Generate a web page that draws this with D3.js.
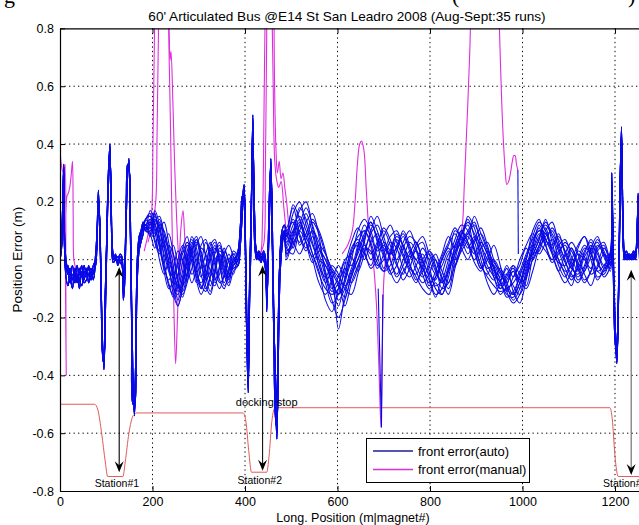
<!DOCTYPE html>
<html><head><meta charset="utf-8">
<script src="https://cdn.jsdelivr.net/npm/d3@7"></script>
<style>
body{margin:0;background:#fff}
svg{display:block}
text{font-family:"Liberation Sans",Arial,Helvetica,sans-serif;fill:#000}
</style>
</head><body>
<svg id="chart" width="639" height="525"></svg>
<script>
// ---------------- DATA ----------------
const titleText = "60' Articulated Bus @E14 St San Leadro 2008 (Aug-Sept:35 runs)";
const xLabel = "Long. Position (m|magnet#)";
const yLabel = "Position Error (m)";
const xTicks = [0, 200, 400, 600, 800, 1000, 1200];
const yTicks = [-0.8, -0.6, -0.4, -0.2, 0, 0.2, 0.4, 0.6, 0.8];
const seriesNames = ["front error(auto)", "front error(manual)"];
const captionFragments = ["g", "(", ")"];

// station zone 1 (all runs nearly aligned)
const zone1Pos = [0,3,6,8,10,13,17,22,27,32,37,42,47,52,57,62,67,72,77,80,83,86,89,92,95,98,101,104,108,111,115,120,125,130,134,137,140,143,146,149,152,155,158,161,164,167,171,175,180,185];
const zone1A = [0.02,0.05,0.18,0.32,0.05,-0.02,-0.05,-0.03,-0.07,-0.04,-0.08,-0.03,-0.06,-0.02,-0.05,-0.03,-0.06,-0.02,0.0,0.08,0.22,0.12,-0.1,-0.3,-0.37,-0.15,0.05,0.25,0.38,0.15,0.0,0.01,-0.01,0.01,0.0,-0.12,-0.05,0.15,0.3,0.34,0.15,-0.2,-0.45,-0.53,-0.3,-0.05,0.05,0.08,0.11,0.12];
const zone1B = [0.0,0.03,0.15,0.30,0.02,-0.06,-0.09,-0.05,-0.02,-0.08,-0.05,-0.1,-0.04,-0.07,-0.03,-0.08,-0.04,-0.05,0.02,0.1,0.24,0.1,-0.12,-0.32,-0.34,-0.1,0.08,0.28,0.40,0.12,-0.01,0.0,0.01,-0.01,-0.02,-0.1,-0.02,0.18,0.33,0.32,0.1,-0.25,-0.5,-0.5,-0.25,0.0,0.08,0.1,0.13,0.1];
const zone1C = [0.03,0.08,0.2,0.33,0.08,0.0,-0.04,-0.08,-0.05,-0.06,-0.02,-0.07,-0.09,-0.04,-0.06,-0.02,-0.07,-0.04,-0.02,0.05,0.2,0.14,-0.08,-0.28,-0.38,-0.2,0.02,0.22,0.36,0.18,0.02,0.0,0.0,0.02,0.01,-0.14,-0.08,0.12,0.28,0.35,0.18,-0.15,-0.42,-0.54,-0.35,-0.08,0.03,0.06,0.09,0.14];
const zone1D = [0.01,0.04,0.12,0.28,0.03,-0.04,-0.02,-0.06,-0.1,-0.03,-0.06,-0.05,-0.02,-0.08,-0.07,-0.05,-0.03,-0.07,-0.01,0.06,0.21,0.13,-0.1,-0.33,-0.36,-0.12,0.06,0.26,0.39,0.14,0.0,0.02,-0.02,0.0,-0.01,-0.11,-0.04,0.16,0.31,0.33,0.12,-0.22,-0.48,-0.52,-0.28,-0.03,0.06,0.09,0.12,0.11];

// wandering band between station 1 and 2
const band1Pos = [195,205,215,225,235,245,255,265,275,285,295,305,315,325,335,345,355,365,375];
const band1Run0  = [0.14,0.12,0.08,0.02,-0.04,-0.08,-0.05,0.02,0.06,0.03,-0.04,-0.08,-0.05,0.0,0.04,0.0,-0.06,-0.04,0.0];
const band1Run1  = [0.10,0.15,0.10,0.04,-0.02,-0.10,-0.12,-0.06,0.03,0.07,0.02,-0.05,-0.10,-0.06,0.02,0.05,-0.02,-0.07,-0.02];
const band1Run2  = [0.16,0.09,0.13,0.06,0.0,-0.06,-0.14,-0.08,-0.02,0.05,0.08,0.02,-0.06,-0.11,-0.04,0.03,0.01,-0.05,-0.03];
const band1Run3  = [0.12,0.16,0.07,-0.02,-0.07,-0.03,0.03,0.0,-0.07,-0.03,0.05,0.08,0.01,-0.07,-0.09,-0.02,0.04,-0.01,-0.05];
const band1Run4  = [0.08,0.13,0.15,0.09,0.02,-0.05,-0.09,-0.11,-0.04,0.04,0.06,-0.01,-0.09,-0.12,-0.05,0.02,-0.03,-0.08,0.0];
const band1Run5  = [0.13,0.06,0.02,0.08,0.04,-0.08,-0.16,-0.1,0.0,0.08,0.04,-0.03,0.02,0.06,0.0,-0.07,-0.1,-0.04,0.02];
const band1Run6  = [0.15,0.11,0.05,-0.01,0.05,0.02,-0.07,-0.12,-0.08,0.0,-0.06,-0.1,-0.03,0.05,0.07,0.01,-0.05,-0.09,-0.04];
const band1Run7  = [0.11,0.17,0.12,0.0,-0.09,-0.12,-0.06,0.04,0.08,-0.01,-0.08,-0.02,0.06,0.02,-0.06,-0.1,-0.05,0.02,-0.01];
const band1Run8  = [0.09,0.04,0.10,0.13,0.06,-0.02,-0.1,-0.04,0.05,0.02,-0.07,-0.12,-0.08,0.01,0.05,-0.02,-0.08,-0.03,0.03];
const band1Run9  = [0.14,0.10,0.0,-0.05,0.0,0.05,-0.02,-0.09,-0.05,0.03,0.07,0.0,-0.07,-0.04,0.03,0.06,0.0,-0.06,-0.02];
const band1Run10 = [0.12,0.14,0.11,0.05,-0.03,-0.06,-0.02,0.03,0.0,-0.05,-0.02,0.04,0.02,-0.04,-0.07,-0.03,0.02,0.05,0.01];
const band1Run11 = [0.17,0.13,0.04,-0.03,-0.08,-0.13,-0.09,-0.01,0.05,0.01,-0.05,-0.09,-0.11,-0.06,0.0,0.02,-0.04,-0.06,-0.01];
const band1Run12 = [0.13,0.08,0.12,0.10,0.03,-0.04,-0.11,-0.07,0.01,0.06,0.0,-0.06,-0.02,0.04,-0.02,-0.08,-0.06,0.0,0.02];
const band1Run13 = [0.09,0.16,0.06,-0.04,-0.10,-0.07,0.0,0.05,-0.02,-0.08,-0.03,0.05,0.07,0.0,-0.08,-0.05,0.03,0.0,-0.03];
const band1Run14 = [0.15,0.12,0.14,0.07,-0.01,-0.12,-0.16,-0.09,0.0,0.04,-0.02,-0.1,-0.06,0.03,0.06,-0.01,-0.09,-0.06,0.01];
const band1Run15 = [0.11,0.07,0.03,0.05,0.09,0.02,-0.08,-0.13,-0.06,0.02,0.07,0.03,-0.04,-0.09,-0.03,0.04,0.02,-0.03,-0.02];

// station zone 2
const zone2Pos = [385,390,394,398,401,404,407,410,413,417,421,425,430,435,440,444,447,450,453,456,459,462,466,469,472,476,480,485];
const zone2A = [0.02,0.1,0.2,0.26,0.05,-0.3,-0.46,-0.1,0.1,0.48,0.1,0.01,0.02,0.0,0.02,0.0,-0.18,0.0,0.2,0.35,0.1,-0.2,-0.5,-0.62,-0.3,0.0,0.06,0.08];
const zone2B = [0.0,0.08,0.18,0.24,0.02,-0.25,-0.4,-0.05,0.15,0.45,0.05,0.0,0.03,0.01,0.0,-0.03,-0.12,0.05,0.24,0.33,0.05,-0.25,-0.55,-0.58,-0.2,0.02,0.08,0.1];
const zone2C = [-0.02,0.05,0.15,0.25,0.08,-0.2,-0.43,-0.15,0.05,0.42,0.15,0.02,0.0,0.02,0.01,-0.01,-0.15,-0.02,0.15,0.32,0.15,-0.15,-0.45,-0.6,-0.35,-0.05,0.04,0.1];
const zone2D = [0.03,0.12,0.22,0.2,0.0,-0.28,-0.38,-0.08,0.12,0.5,0.08,0.03,0.01,-0.01,0.03,0.01,-0.1,0.02,0.18,0.3,0.08,-0.2,-0.4,-0.5,-0.25,0.03,0.1,0.12];

// wandering band between station 2 and 3
const band2Pos = [490,504,518,532,546,560,574,588,602,616,630,644,658,672,686,700,714,728,742,756,770,784,798,812,826,840,854,868,882,896,910,924,938,952,966,980,994,1008,1022,1036,1050,1064,1078,1092,1106,1120,1134,1148,1162,1176,1190];
const band2Run0 = [0.06,0.12,0.15,0.10,0.02,-0.05,-0.10,-0.12,-0.10,-0.04, 0.03,0.08,0.10,0.05,-0.02,0.00,0.06,0.04,-0.03,-0.06, -0.02,0.02,-0.04,-0.09,-0.07,0.00,0.07,0.12,0.10,0.04, -0.02,-0.06,-0.09,-0.11,-0.10,-0.08,-0.04,0.02,0.07,0.10, 0.09,0.04,0.00,-0.04,-0.02,0.03,0.01,-0.05,-0.03,0.02, 0.00];
const band2Run1 = [0.02,0.05,0.12,0.18,0.12,0.04,-0.02,-0.06,-0.14,-0.10, -0.03,0.02,0.08,0.12,0.08,0.02,-0.04,0.03,0.08,0.03, -0.04,-0.08,-0.05,0.00,-0.06,-0.10,0.00,0.08,0.13,0.09, 0.05,0.00,-0.04,-0.08,-0.12,-0.13,-0.08,-0.02,0.03,0.08, 0.12,0.08,0.03,-0.03,-0.07,-0.02,0.04,0.02,-0.06,-0.04, 0.02];
const band2Run2 = [0.08,0.14,0.08,0.03,0.08,0.02,-0.06,-0.14,-0.20,-0.14, -0.06,0.00,0.05,0.02,0.06,0.10,0.05,-0.02,-0.05,0.02, 0.06,0.00,-0.06,-0.12,-0.10,-0.03,0.03,0.06,0.09,0.12, 0.07,0.02,-0.03,-0.06,-0.05,-0.09,-0.12,-0.06,0.00,0.05, 0.10,0.13,0.06,0.01,0.04,-0.03,-0.08,-0.04,0.03,0.05, -0.02];
const band2Run3 = [0.10,0.06,0.02,0.07,0.13,0.09,0.02,-0.03,-0.06,-0.09, -0.06,0.04,0.12,0.08,0.01,-0.04,-0.02,0.05,0.09,0.04, 0.00,-0.03,-0.08,-0.06,0.00,0.04,0.00,0.05,0.15,0.11, 0.03,-0.03,-0.02,-0.07,-0.13,-0.11,-0.06,0.01,0.05,0.02, 0.06,0.11,0.07,0.03,-0.02,-0.06,-0.02,0.05,0.02,-0.03, 0.01];
const band2Run4 = [0.00,0.08,0.18,0.14,0.06,-0.02,-0.08,-0.04,-0.08,-0.16, -0.08,-0.02,0.03,0.09,0.12,0.06,0.00,-0.05,0.00,0.06, 0.03,-0.05,-0.10,-0.08,-0.12,-0.06,0.05,0.10,0.06,0.02, 0.06,0.02,-0.06,-0.10,-0.07,-0.04,-0.10,-0.05,0.04,0.12, 0.07,0.02,-0.04,0.02,0.06,0.02,-0.05,-0.09,-0.02,0.04, 0.01];
const band2Run5 = [0.05,0.10,0.06,0.13,0.16,0.08,-0.04,-0.10,-0.06,0.00, 0.02,0.06,0.02,-0.02,0.04,0.08,0.12,0.06,0.01,-0.04, -0.08,-0.02,0.02,-0.03,-0.08,-0.02,0.10,0.08,0.04,0.08, 0.00,-0.08,-0.12,-0.08,-0.02,-0.06,0.00,0.05,0.09,0.06, 0.03,0.00,0.05,0.07,0.01,-0.04,0.03,0.06,0.00,-0.06, -0.02];
const band2Run6 = [0.04,0.02,0.10,0.06,0.00,-0.08,-0.12,-0.07,-0.02,-0.06, 0.00,0.10,0.14,0.10,0.03,0.05,0.00,-0.06,-0.02,0.03, 0.00,0.04,0.00,-0.05,-0.02,0.03,-0.02,0.04,0.09,0.06, -0.02,-0.05,0.00,-0.04,-0.09,-0.14,-0.10,-0.01,0.02,0.07, 0.14,0.06,-0.02,-0.06,0.00,0.05,0.08,0.00,-0.07,-0.03, 0.03];
const band2Run7 = [0.07,0.16,0.20,0.12,0.05,0.00,-0.02,-0.08,-0.12,-0.08, 0.02,0.05,0.00,0.06,0.09,0.03,-0.04,-0.08,-0.04,0.00, 0.05,0.08,0.02,-0.04,-0.08,-0.04,0.02,0.08,0.05,0.00, 0.04,0.06,0.00,-0.05,-0.08,-0.04,-0.07,-0.10,-0.04,0.04, 0.08,0.10,0.04,-0.01,-0.05,-0.08,-0.03,0.03,0.06,0.01, -0.03];
const band2Run8 = [0.03,0.06,0.10,0.16,0.09,-0.02,-0.06,-0.02,-0.05,-0.10, -0.12,-0.05,0.04,0.03,-0.03,0.02,0.08,0.10,0.04,-0.02, -0.06,-0.10,-0.12,-0.06,0.00,0.05,0.09,0.04,0.00,0.06, 0.09,0.04,-0.01,-0.04,-0.10,-0.12,-0.05,0.00,0.10,0.14, 0.05,-0.01,0.02,0.06,0.03,-0.02,-0.07,-0.04,0.04,0.06, 0.00];
const band2Run9 = [0.09,0.04,0.12,0.08,0.10,0.04,0.00,-0.05,-0.24,-0.12, -0.04,0.00,0.06,0.15,0.10,0.04,0.02,0.07,0.02,-0.03, -0.05,0.00,0.03,-0.02,-0.10,-0.08,-0.02,0.03,0.07,0.15, 0.09,0.03,-0.05,-0.07,-0.03,-0.11,-0.15,-0.07,0.02,0.03, 0.09,0.05,0.09,0.02,-0.03,0.02,0.00,-0.03,0.05,0.02, -0.04];
const band2Run10 = [0.01,0.09,0.14,0.06,-0.01,0.03,0.00,-0.09,-0.16,-0.06, 0.04,0.07,0.03,-0.03,0.00,0.06,0.03,0.00,0.06,0.10, 0.04,-0.03,-0.07,-0.13,-0.05,0.02,0.05,0.10,0.06,-0.01, -0.04,0.01,-0.02,-0.10,-0.06,-0.03,-0.08,-0.03,0.06,0.11, 0.05,0.07,0.00,-0.05,-0.09,0.00,0.05,0.02,-0.04,-0.05, 0.02];
const band2Run11 = [0.11,0.18,0.09,0.04,0.10,0.06,-0.05,-0.11,-0.08,-0.03, -0.08,-0.03,0.07,0.13,0.06,-0.03,0.03,0.09,0.05,0.01, 0.03,-0.01,-0.09,-0.04,0.02,0.08,0.04,0.09,0.12,0.03, -0.03,0.03,-0.03,-0.08,-0.11,-0.06,-0.02,0.04,0.00,0.05, 0.11,0.03,-0.01,-0.02,0.04,-0.01,-0.04,0.04,0.08,0.02, -0.01];
const band2Run12 = [0.04,0.10,0.17,0.20,0.11,0.00,-0.08,-0.15,-0.12,-0.02, 0.06,0.11,0.06,0.00,0.05,0.11,0.07,-0.01,-0.07,-0.03, 0.04,0.06,-0.02,-0.10,-0.12,-0.04,0.04,0.09,0.14,0.08, 0.02,-0.04,-0.07,-0.03,-0.08,-0.12,-0.08,0.00,0.08,0.13, 0.10,0.02,-0.04,-0.08,-0.04,0.04,0.08,0.03,-0.04,-0.02, 0.02];
const band2Run13 = [0.10,0.13,0.05,0.09,0.14,0.10,0.03,-0.07,-0.12,-0.07, 0.01,-0.04,0.02,0.10,0.15,0.08,0.02,0.04,0.10,0.05, -0.02,-0.06,-0.02,0.02,-0.04,-0.08,0.02,0.06,0.10,0.13, 0.05,-0.02,-0.06,-0.12,-0.09,-0.02,-0.05,-0.09,0.01,0.07, 0.13,0.09,0.05,0.00,-0.06,-0.03,0.02,0.07,0.03,-0.02, -0.01];
const band2Run14 = [0.02,0.07,0.13,0.08,0.02,-0.04,-0.14,-0.18,-0.10,-0.01, -0.02,0.05,0.10,0.06,-0.01,-0.04,0.02,0.08,0.05,-0.01, -0.07,-0.04,0.03,0.00,-0.07,-0.12,-0.03,0.05,0.08,0.03, -0.03,0.00,0.05,-0.02,-0.11,-0.15,-0.12,-0.04,0.03,0.09, 0.05,0.00,0.03,0.05,-0.01,-0.07,-0.04,0.01,0.07,0.03, -0.02];
const band2Run15 = [0.08,0.19,0.14,0.06,0.01,0.05,0.02,-0.04,-0.09,-0.13, -0.05,0.03,0.09,0.13,0.07,0.01,-0.05,-0.02,0.04,0.08, 0.06,0.00,-0.05,-0.07,0.01,0.06,0.11,0.07,0.02,0.07, 0.11,0.05,-0.03,-0.09,-0.05,-0.02,-0.08,-0.06,0.05,0.10, 0.07,0.04,0.08,0.03,-0.03,-0.05,0.01,0.04,-0.01,-0.04, 0.01];

// station zone 3
const zone3Pos = [1193,1196,1200,1204,1208,1211,1214,1217,1220,1224,1228,1232,1236,1240,1244,1247,1250,1253,1257,1262];
const zone3A = [0.30,0.0,-0.25,-0.36,-0.1,0.25,0.46,0.15,0.02,0.01,0.02,0.0,0.01,0.02,0.0,0.05,0.22,0.05,-0.1,0.0];
const zone3B = [0.27,0.05,-0.2,-0.34,-0.05,0.28,0.43,0.1,0.0,0.02,0.0,0.01,0.02,0.0,0.01,0.08,0.2,0.0,-0.15,0.0];
const zone3C = [0.22,-0.02,-0.28,-0.33,-0.12,0.2,0.44,0.18,0.03,0.0,0.01,0.02,0.0,0.01,0.03,0.04,0.18,0.08,-0.05,0.0];
const zone3D = [0.25,0.02,-0.22,-0.30,-0.08,0.22,0.40,0.12,0.01,0.03,0.02,0.01,0.01,0.03,0.02,0.06,0.23,0.02,-0.12,0.0];

// short auto-run excursions
const autoSpur1X = [688, 695, 698];
const autoSpur1Y = [-0.1, -0.58, -0.12];
const autoSpur2X = [990, 991];
const autoSpur2Y = [0.31, 0.02];

// manual runs (segments that leave the auto band)
const manualAX = [0,2,5,8,11,12.5,13.5,15,18,21,24,27,28.5,30,34,38];
const manualAY = [0.39,0.34,0.31,0.30,0.33,-0.05,-0.40,0.22,0.23,0.25,0.29,0.34,0.15,0.0,-0.03,-0.05];
const manualBX = [182,192,198,201,204,207,215,225,233,236,239,242,246,250,254,258,262,266,271,278];
const manualBY = [0.03,0.1,0.16,0.4,0.75,1.0,1.2,1.15,0.95,0.7,0.45,0.15,-0.15,-0.36,-0.2,0.0,0.12,0.17,0.05,-0.02];
const manualCX = [190,200,207,210,213,216,224,232,236,238,240,244,248,252,256,260,266,272];
const manualCY = [0.06,0.12,0.2,0.45,0.8,1.05,1.15,0.95,0.78,0.69,0.72,0.55,0.32,0.15,0.02,-0.04,0.0,-0.03];
const manualDX = [428,434,438,441,444,448,455,461,464,467,470,474,478,482,486,490,496,502];
const manualDY = [0.0,0.02,0.15,0.5,0.9,1.15,1.2,1.0,0.6,0.38,0.3,0.34,0.28,0.3,0.25,0.2,0.1,0.05];
const manualEX = [432,440,444,447,450,455,458,461,464,468,473,478,484,490];
const manualEY = [0.02,0.05,0.3,0.8,1.1,1.1,0.9,0.6,0.35,0.28,0.25,0.27,0.18,0.08];
const manualFX = [610,622,632,638,643,648,652,657,662,667,672,678,684,689,694,697,701,708,716];
const manualFY = [0.02,0.05,0.1,0.2,0.33,0.4,0.41,0.38,0.25,0.12,0.05,-0.02,-0.15,-0.35,-0.58,-0.3,-0.05,0.03,0.0];
const manualGX = [850,860,866,870,874,878,882,886,890,910,935,947,951,955,959,963,966,970,974,978,981,984,987,990];
const manualGY = [0.0,0.05,0.09,0.12,0.25,0.4,0.55,0.72,0.9,1.2,1.2,0.95,0.75,0.55,0.4,0.3,0.26,0.27,0.3,0.34,0.36,0.36,0.33,0.31];

// docking reference profile
const dockX = [0,75,82,90,98,103,136,141,149,158,166,396,402,408,414,447,452,458,465,1189,1194,1200,1207,1260,1300];
const dockY = [-0.5,-0.5,-0.52,-0.6,-0.7,-0.75,-0.75,-0.7,-0.6,-0.54,-0.53,-0.53,-0.56,-0.66,-0.735,-0.735,-0.68,-0.56,-0.512,-0.512,-0.55,-0.68,-0.75,-0.75,-0.75];

// station arrows and labels (data coordinates)
const stationNames = ["Station#1", "Station#2", "Station#3"];
const stationX = [128, 438, 1235];
const stationTop = [-0.025, -0.02, -0.035];
const stationBottom = [-0.735, -0.73, -0.745];
const stationLabelX = [123, 432, 1222];
const stationLabelY = [-0.787, -0.776, -0.787];
const dockLabel = "docking stop";
const dockLabelX = 447;
const dockLabelY = -0.505;

// ---------------- DRAW ----------------
const svg = d3.select("#chart");
const W = 639, H = 525;
svg.append("rect").attr("width", W).attr("height", H).attr("fill", "#fff");

const plotLeft = 60, plotTop = 28.4, plotBottom = 491;
const x = d3.scaleLinear().domain([0, 1300]).range([plotLeft, plotLeft + 1300 * 0.4625]);
const y = d3.scaleLinear().domain([-0.8, 0.8]).range([plotBottom, plotTop]);

svg.append("defs").append("clipPath").attr("id", "plotclip")
  .append("rect").attr("x", plotLeft).attr("y", plotTop).attr("width", x(1300) - plotLeft).attr("height", plotBottom - plotTop);

// cut-off caption line above the figure
const capX = [4, 452, 628];
captionFragments.forEach((t, i) => {
  svg.append("text").attr("x", capX[i]).attr("y", 3).attr("font-size", 22)
    .style("font-family", "'Liberation Serif', 'Times New Roman', serif").text(t);
});

// grid
const grid = svg.append("g");
grid.selectAll("line.vg").data(xTicks.filter(d => d > 0)).join("line")
  .attr("x1", d => x(d)).attr("x2", d => x(d)).attr("y1", plotTop).attr("y2", plotBottom)
  .attr("stroke", "#000").attr("stroke-width", 1).attr("stroke-dasharray", "1.3,3.2");
grid.selectAll("line.hg").data(yTicks.filter(d => Math.abs(d) < 0.79)).join("line")
  .attr("x1", plotLeft).attr("x2", x(1300)).attr("y1", d => y(d)).attr("y2", d => y(d))
  .attr("stroke", "#000").attr("stroke-width", 1).attr("stroke-dasharray", "1.3,3.2");

const plot = svg.append("g").attr("clip-path", "url(#plotclip)");
const line = d3.line().x(d => x(d[0])).y(d => y(d[1])).curve(d3.curveCatmullRom.alpha(0.5));
const zip = (xs, ys) => xs.map((v, i) => [v, ys[i]]);

// manual runs (magenta)
const manualColor = "#dd2ddd";
[[manualAX, manualAY], [manualBX, manualBY], [manualCX, manualCY], [manualDX, manualDY],
 [manualEX, manualEY], [manualFX, manualFY], [manualGX, manualGY]].forEach(([xs, ys]) => {
  plot.append("path").attr("d", line(zip(xs, ys))).attr("fill", "none")
    .attr("stroke", manualColor).attr("stroke-width", 1.1);
});

// docking profile (red)
plot.append("path").attr("d", d3.line().x(d => x(d[0])).y(d => y(d[1])).curve(d3.curveMonotoneX)(zip(dockX, dockY)))
  .attr("fill", "none").attr("stroke", "#e25a5a").attr("stroke-width", 1);

// auto runs (blue)
const zone1 = [zone1A, zone1B, zone1C, zone1D];
const zone2 = [zone2A, zone2B, zone2C, zone2D];
const zone3 = [zone3A, zone3B, zone3C, zone3D];
const band1 = [band1Run0, band1Run1, band1Run2, band1Run3, band1Run4, band1Run5, band1Run6, band1Run7, band1Run8, band1Run9, band1Run10, band1Run11, band1Run12, band1Run13, band1Run14, band1Run15];
const band2 = [band2Run0, band2Run1, band2Run2, band2Run3, band2Run4, band2Run5, band2Run6, band2Run7, band2Run8, band2Run9, band2Run10, band2Run11, band2Run12, band2Run13, band2Run14, band2Run15];
const autoColor = "#0a0ae6";
band1.forEach((b1, i) => {
  const pts = [].concat(
    zip(zone1Pos, zone1[i % 4]), zip(band1Pos, b1), zip(zone2Pos, zone2[i % 4]),
    zip(band2Pos, band2[i]), zip(zone3Pos, zone3[i % 4])
  ).filter(p => p[1] !== undefined);
  plot.append("path").attr("d", line(pts)).attr("fill", "none")
    .attr("stroke", autoColor).attr("stroke-width", 1.05).attr("stroke-linejoin", "round");
});
[[autoSpur1X, autoSpur1Y], [autoSpur2X, autoSpur2Y]].forEach(([xs, ys]) => {
  plot.append("path").attr("d", d3.line().x(d => x(d[0])).y(d => y(d[1]))(zip(xs, ys)))
    .attr("fill", "none").attr("stroke", autoColor).attr("stroke-width", 1.1);
});

// station arrows
const arrowColors = ["#000", "#111", "#666"];
stationX.forEach((sx, i) => {
  const px = x(sx), y1 = y(stationTop[i]), y2 = y(stationBottom[i]);
  const g = svg.append("g");
  g.append("line").attr("x1", px).attr("x2", px).attr("y1", y1 + 3).attr("y2", y2 - 3)
    .attr("stroke", arrowColors[i]).attr("stroke-width", 1.1);
  g.append("path").attr("d", `M${px},${y1} L${px - 4.5},${y1 + 11} L${px},${y1 + 7} L${px + 4.5},${y1 + 11} Z`)
    .attr("fill", "#000");
  g.append("path").attr("d", `M${px},${y2} L${px - 4.5},${y2 - 11} L${px},${y2 - 7} L${px + 4.5},${y2 - 11} Z`)
    .attr("fill", "#000");
  svg.append("text").attr("x", x(stationLabelX[i])).attr("y", y(stationLabelY[i]))
    .attr("text-anchor", "middle").attr("font-size", 10.5).text(stationNames[i]);
});
svg.append("text").attr("x", x(dockLabelX)).attr("y", y(dockLabelY))
  .attr("text-anchor", "middle").attr("font-size", 11).text(dockLabel);

// axes
const fmt = d => d === 0 ? "0" : String(+d.toFixed(1));
const ax = svg.append("g").attr("transform", `translate(0,${plotBottom})`)
  .call(d3.axisBottom(x).tickValues(xTicks).tickFormat(d3.format("d")).tickSize(-5).tickSizeOuter(0).tickPadding(6));
const ay = svg.append("g").attr("transform", `translate(${plotLeft},0)`)
  .call(d3.axisLeft(y).tickValues(yTicks).tickFormat(fmt).tickSize(-5).tickSizeOuter(0).tickPadding(6));
const at = svg.append("g").attr("transform", `translate(0,${plotTop})`)
  .call(d3.axisTop(x).tickValues(xTicks).tickFormat("").tickSize(-5).tickSizeOuter(0));
[ax, ay, at].forEach(g => {
  g.attr("font-family", null).attr("font-size", null);
  g.selectAll("text").attr("font-size", 12.5).attr("fill", "#000");
  g.selectAll("line").attr("stroke", "#000");
  g.select(".domain").attr("stroke", "#000").attr("stroke-width", 1.2);
});

// titles
svg.append("text").attr("x", 347).attr("y", 21).attr("text-anchor", "middle")
  .attr("font-size", 13.6).text(titleText);
svg.append("text").attr("x", 353).attr("y", 522).attr("text-anchor", "middle")
  .attr("font-size", 12.5).text(xLabel);
svg.append("text").attr("transform", `translate(22,${(plotTop + plotBottom) / 2}) rotate(-90)`)
  .attr("text-anchor", "middle").attr("font-size", 13.5).text(yLabel);

// legend
const lg = svg.append("g");
lg.append("rect").attr("x", 366.5).attr("y", 438.5).attr("width", 163).attr("height", 44)
  .attr("fill", "#fff").attr("stroke", "#000").attr("stroke-width", 1);
const legendColors = ["#1c1c9a", "#d633d6"];
seriesNames.forEach((name, i) => {
  const ly = 451 + i * 18.5;
  lg.append("line").attr("x1", 373).attr("x2", 413).attr("y1", ly).attr("y2", ly)
    .attr("stroke", legendColors[i]).attr("stroke-width", 1.4);
  lg.append("text").attr("x", 418).attr("y", ly + 4.5).attr("font-size", 13).text(name);
});
</script>
</body></html>
